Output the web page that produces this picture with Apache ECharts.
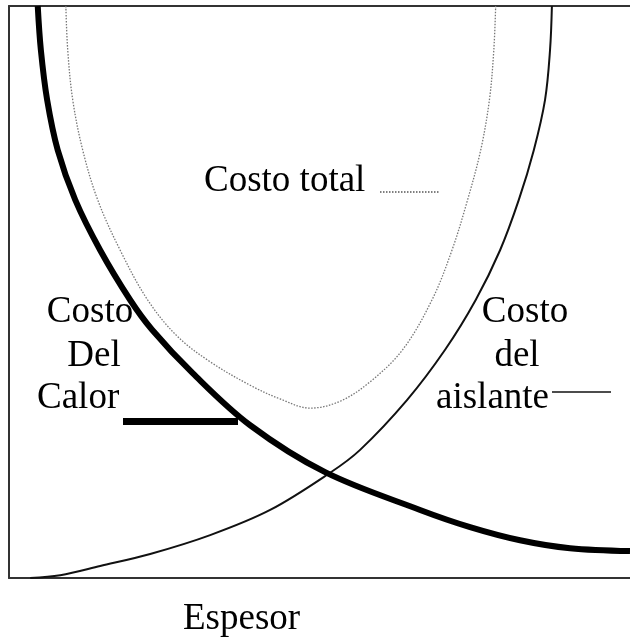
<!DOCTYPE html>
<html><head><meta charset="utf-8">
<script src="https://cdn.jsdelivr.net/npm/echarts@6/dist/echarts.min.js"></script>
<style>html,body{margin:0;padding:0;background:#fff;overflow:hidden}#c{width:630px;height:637px}</style>
</head><body><div id="c"></div>
<script>
// Espesor (x) vs Costo (y), arbitrary units
var costoCalor = [[4.6,100],[5.1,92.3],[6.1,83.6],[7.8,74.8],[10.6,66.1],[14.6,57.3],[19.4,48.6],[22.9,43.4],[29.4,35.8],[38.6,26.7],[50.6,18.5],[65.8,11.9],[73.8,8.9],[81.8,6.6],[89.8,5.2],[99.4,4.7]];
var costoAislante = [[3.4,0],[8.2,0.5],[14.6,2.1],[22.6,4.2],[32.2,7.5],[41.8,11.9],[51.4,18.4],[56.2,22.4],[63.7,31.1],[69.8,39.9],[74.7,48.6],[78.6,57.3],[81.6,66.1],[84.0,74.8],[85.8,83.6],[86.6,92.3],[86.9,100]];
var costoTotal = [[9.1,100],[9.4,92.3],[10.2,83.6],[11.8,74.8],[14.2,66.1],[17.8,57.3],[22.2,48.6],[26.9,42.3],[32.2,37.8],[38.6,33.7],[43.4,31.3],[48.2,29.7],[53.0,30.9],[57.8,34.3],[63.0,39.9],[67.7,48.6],[70.9,57.3],[73.4,66.1],[75.5,74.8],[76.9,83.6],[77.6,92.3],[77.9,100]];
var labelTotal = 'Costo total';
var labelCalor = ['Costo','Del','Calor'];
var labelAislante = ['Costo','del','aislante'];
var labelX = 'Espesor';

var font = '37px "Liberation Serif", "DejaVu Serif", serif';
function txt(t, x, y, align){
  return {type:'text', x:x, y:y, style:{text:t, font:font, fill:'#000', align:align||'left', verticalAlign:'middle'}};
}
var frame = {show:true, onZero:false, lineStyle:{color:'#333', width:2}};
function bareAxis(extra){
  return Object.assign({type:'value', min:0, max:100, axisLine:frame, axisTick:{show:false}, axisLabel:{show:false}, splitLine:{show:false}}, extra);
}
var chart = echarts.init(document.getElementById('c'), null, {renderer:'canvas'});
chart.setOption({
  animation:false,
  grid:{left:9, top:6, right:0, height:572, show:false},
  xAxis:[bareAxis({max:99.4, position:'bottom'}), bareAxis({max:99.4, position:'top'})],
  yAxis:bareAxis({position:'left'}),
  series:[
    {type:'line', data:costoTotal, smooth:0.35, showSymbol:false, lineStyle:{color:'#777', width:1.3, type:[1.5,1.5]}},
    {type:'line', data:costoAislante, smooth:0.35, showSymbol:false, lineStyle:{color:'#111', width:2}},
    {type:'line', data:costoCalor, smooth:0.35, showSymbol:false, lineStyle:{color:'#000', width:6}}
  ],
  graphic:[
    txt(labelTotal, 204, 181),
    txt(labelCalor[0], 90, 312, 'center'),
    txt(labelCalor[1], 94, 356, 'center'),
    txt(labelCalor[2], 37, 398),
    txt(labelAislante[0], 525, 312, 'center'),
    txt(labelAislante[1], 517, 356, 'center'),
    txt(labelAislante[2], 436, 398),
    txt(labelX, 183, 619),
    {type:'line', shape:{x1:123, y1:421.5, x2:238, y2:421.5}, style:{stroke:'#000', lineWidth:7}},
    {type:'line', shape:{x1:552, y1:392, x2:611, y2:392}, style:{stroke:'#111', lineWidth:1.5}},
    {type:'line', shape:{x1:380, y1:192, x2:439, y2:192}, style:{stroke:'#555', lineWidth:1.3, lineDash:[1.5,1.5]}}
  ]
});
</script></body></html>
